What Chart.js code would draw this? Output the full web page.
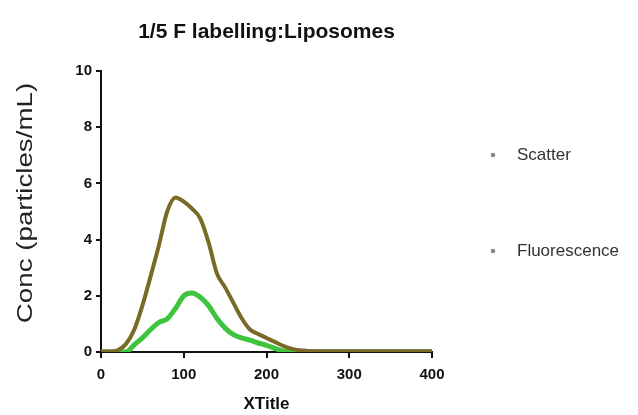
<!DOCTYPE html>
<html>
<head>
<meta charset="utf-8">
<script src="https://cdn.jsdelivr.net/npm/chart.js@4/dist/chart.umd.min.js"></script>
<style>
  html, body { margin: 0; padding: 0; background: #fff; }
  #wrap { width: 638px; height: 415px; }
</style>
</head>
<body>
<div id="wrap"><canvas id="chart" width="638" height="415"></canvas></div>
<script>
// ---- data ----
const TITLE = "1/5 F labelling:Liposomes";
const X_TITLE = "XTitle";
const Y_TITLE = "Conc (particles/mL)";
const SERIES_NAMES = ["Scatter", "Fluorescence"];

const xValues = [0, 10, 20, 30, 40, 50, 60, 70, 80, 90, 100, 110, 120, 130, 140, 150,
  160, 170, 180, 190, 200, 210, 220, 230, 240, 250, 260, 280, 300, 320, 340, 360, 380, 400];

const scatterValues = [0.02, 0.02, 0.06, 0.28, 0.78, 1.65, 2.7, 3.8, 5.0, 5.5, 5.35, 5.1, 4.75,
  3.9, 2.8, 2.3, 1.75, 1.2, 0.8, 0.64, 0.5, 0.36, 0.22, 0.12, 0.06, 0.04, 0.03, 0.03,
  0.03, 0.03, 0.03, 0.03, 0.03, 0.03];

const fluorValues = [0, 0, 0, 0, 0.25, 0.5, 0.8, 1.05, 1.18, 1.55, 2.0, 2.1, 1.95, 1.65,
  1.2, 0.85, 0.62, 0.5, 0.42, 0.32, 0.24, 0.13, 0.04, 0.01, 0.01, 0.01, 0.01, 0.01,
  0.01, 0.01, 0.01, 0.01, 0.01, 0.01];

const LINE_COLORS = ["#7a6a28", "#3ec43e"];
const LEGEND_Y = [155, 251];

const toPoints = (ys) => xValues.map((x, i) => ({ x, y: ys[i] }));

// title, rotated y title and the legend are drawn by hand to sit where the original has them
const decor = {
  id: "decor",
  afterDraw(chart) {
    const { ctx, chartArea } = chart;
    ctx.save();
    ctx.fillStyle = "#111";
    ctx.font = "bold 21px 'Liberation Sans', Arial, sans-serif";
    ctx.textAlign = "center";
    ctx.textBaseline = "middle";
    ctx.fillText(TITLE, (chartArea.left + chartArea.right) / 2, 32);

    // y title (source is stretched along its length)
    ctx.save();
    ctx.translate(26, 203);
    ctx.rotate(-Math.PI / 2);
    ctx.scale(1.26, 1);
    ctx.font = "22px 'Liberation Sans', Arial, sans-serif";
    ctx.fillStyle = "#222";
    ctx.fillText(Y_TITLE, 0, 0);
    ctx.restore();

    // legend
    ctx.textAlign = "left";
    ctx.font = "17px 'Liberation Sans', Arial, sans-serif";
    SERIES_NAMES.forEach((name, i) => {
      const y = LEGEND_Y[i];
      ctx.fillStyle = "#8a8a8a";
      ctx.beginPath();
      ctx.arc(493, y, 2.3, 0, Math.PI * 2);
      ctx.fill();
      ctx.fillStyle = "#333";
      ctx.fillText(name, 517, y);
    });
    ctx.restore();
  },
};

const tickFont = { family: "'Liberation Sans', Arial, sans-serif", size: 15, weight: "bold" };

new Chart(document.getElementById("chart"), {
  type: "line",
  data: {
    datasets: [
      {
        label: SERIES_NAMES[0],
        data: toPoints(scatterValues),
        borderColor: LINE_COLORS[0],
        borderWidth: 4,
        pointRadius: 0,
        tension: 0.35,
        cubicInterpolationMode: "monotone",
      },
      {
        label: SERIES_NAMES[1],
        data: toPoints(fluorValues),
        borderColor: LINE_COLORS[1],
        borderWidth: 5,
        pointRadius: 0,
        tension: 0.35,
        cubicInterpolationMode: "monotone",
      },
    ],
  },
  options: {
    responsive: false,
    animation: false,
    layout: { padding: { top: 71, right: 206, bottom: 0, left: 0 } },
    plugins: {
      legend: { display: false },
      tooltip: { enabled: false },
    },
    scales: {
      x: {
        type: "linear",
        min: 0,
        max: 400,
        afterFit: (s) => { s.height = 63; },
        ticks: { stepSize: 100, color: "#111", font: tickFont, padding: 8 },
        grid: { drawOnChartArea: false, drawTicks: true, tickLength: 6, color: "#111", lineWidth: 2 },
        border: { color: "#111", width: 2 },
        title: {
          display: true,
          text: X_TITLE,
          color: "#111",
          font: { family: "'Liberation Sans', Arial, sans-serif", size: 17, weight: "bold" },
          padding: { top: 0, bottom: 0 },
        },
      },
      y: {
        min: 0,
        max: 10,
        afterFit: (s) => { s.width = 101; },
        ticks: { stepSize: 2, color: "#111", font: tickFont, padding: 4 },
        grid: { drawOnChartArea: false, drawTicks: true, tickLength: 5, color: "#111", lineWidth: 2 },
        border: { color: "#111", width: 2 },
      },
    },
  },
  plugins: [decor],
});
</script>
</body>
</html>
